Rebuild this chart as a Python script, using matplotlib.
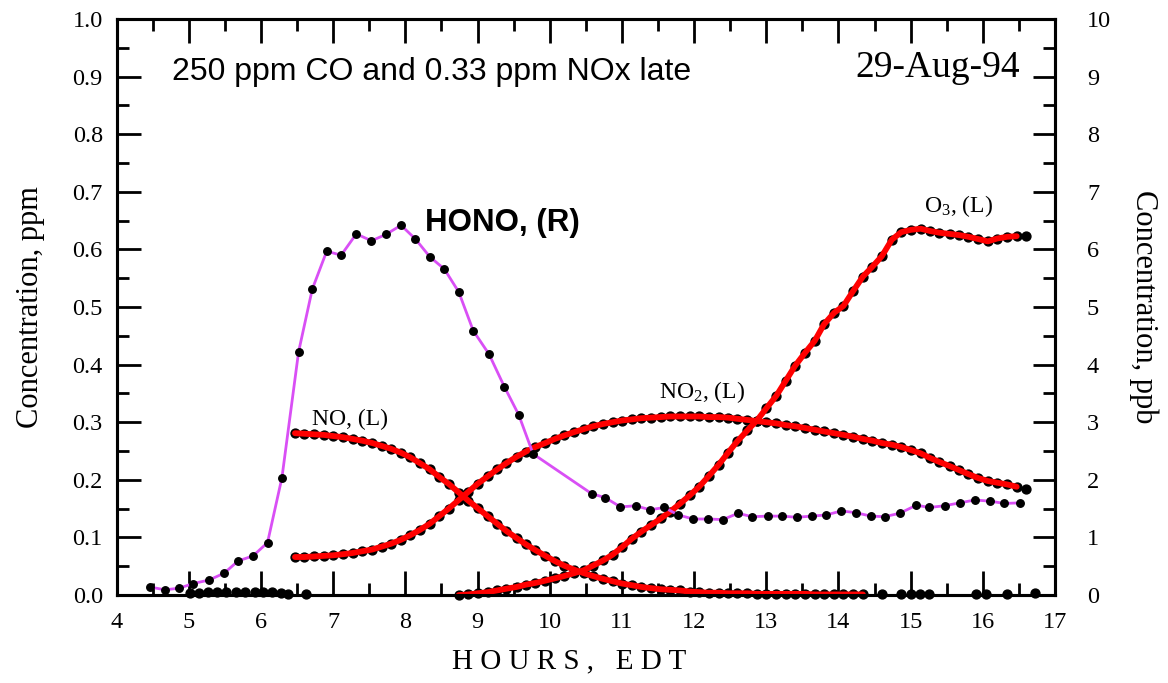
import matplotlib
matplotlib.use("Agg")
import matplotlib.pyplot as plt
from matplotlib.ticker import MultipleLocator, FormatStrFormatter

plt.rcParams['font.family'] = 'Liberation Serif'
plt.rcParams['mathtext.fontset'] = 'custom'
plt.rcParams['mathtext.rm'] = 'Liberation Serif'
plt.rcParams['mathtext.default'] = 'regular'

# HONO (right axis, ppb)
hono_t = [4.46, 4.67, 4.87, 5.06, 5.28, 5.49, 5.68, 5.89, 6.09, 6.29,
          6.52, 6.71, 6.91, 7.11, 7.32, 7.53, 7.73, 7.94, 8.14, 8.34,
          8.54, 8.74, 8.94, 9.16, 9.37, 9.57, 9.77,
          10.58, 10.77, 10.98,
          11.19, 11.39, 11.59, 11.78, 11.99, 12.19, 12.40, 12.61, 12.80, 13.02,
          13.22, 13.42, 13.63, 13.83, 14.04, 14.24, 14.45, 14.64, 14.85, 15.08,
          15.26, 15.47, 15.68, 15.89, 16.10, 16.30, 16.51]
hono_ppb = [0.14, 0.09, 0.12, 0.20, 0.26, 0.38, 0.59, 0.68, 0.91, 2.04,
            4.22, 5.31, 5.97, 5.90, 6.27, 6.15, 6.26, 6.42, 6.18, 5.87,
            5.66, 5.26, 4.59, 4.18, 3.62, 3.13, 2.45,
            1.76, 1.69, 1.53,
            1.55, 1.48, 1.52, 1.39, 1.32, 1.32, 1.31, 1.42, 1.36, 1.37,
            1.37, 1.35, 1.37, 1.39, 1.46, 1.43, 1.37, 1.36, 1.42, 1.56,
            1.52, 1.55, 1.60, 1.65, 1.63, 1.59, 1.60]

# sample times for NO, NO2, O3 (hours)
times = [6.47, 6.60, 6.74, 6.87, 7.00, 7.14, 7.27, 7.40, 7.54, 7.67,
         7.80, 7.94, 8.07, 8.20, 8.34, 8.47, 8.60, 8.74, 8.87, 9.00,
         9.14, 9.27, 9.40, 9.54, 9.67, 9.80, 9.94, 10.07, 10.20, 10.34,
         10.47, 10.60, 10.74, 10.87, 11.00, 11.14, 11.27, 11.40, 11.54, 11.67,
         11.80, 11.94, 12.07, 12.20, 12.34, 12.47, 12.60, 12.74, 12.87, 13.00,
         13.14, 13.27, 13.40, 13.54, 13.67, 13.80, 13.94, 14.07, 14.20, 14.34,
         14.47, 14.60, 14.74, 14.87, 15.00, 15.14, 15.27, 15.40, 15.54, 15.67,
         15.80, 15.94, 16.07, 16.20, 16.34, 16.47, 16.60]

no_ppm = [0.281, 0.280, 0.279, 0.278, 0.276, 0.274, 0.271, 0.268, 0.264, 0.259,
          0.254, 0.247, 0.239, 0.229, 0.218, 0.205, 0.193, 0.178, 0.164, 0.151,
          0.137, 0.124, 0.111, 0.099, 0.088, 0.078, 0.068, 0.059, 0.051, 0.044,
          0.038, 0.033, 0.028, 0.024, 0.020, 0.017, 0.014, 0.012, 0.010, 0.009,
          0.008, 0.006, 0.005, 0.004, 0.004, 0.003, 0.003, 0.003, 0.002, 0.002,
          0.002, 0.002, 0.002, 0.002, 0.001, 0.001, 0.001, 0.001, 0.001, 0.001]

no2_ppm = [0.066, 0.066, 0.067, 0.068, 0.069, 0.071, 0.073, 0.076, 0.079, 0.084,
           0.089, 0.096, 0.104, 0.113, 0.124, 0.137, 0.150, 0.165, 0.179, 0.193,
           0.206, 0.218, 0.229, 0.240, 0.249, 0.257, 0.264, 0.271, 0.277, 0.283,
           0.288, 0.293, 0.297, 0.300, 0.303, 0.305, 0.307, 0.308, 0.309, 0.310,
           0.310, 0.310, 0.310, 0.309, 0.309, 0.308, 0.306, 0.304, 0.302, 0.300,
           0.298, 0.295, 0.293, 0.290, 0.287, 0.284, 0.281, 0.278, 0.275, 0.271,
           0.268, 0.264, 0.261, 0.257, 0.252, 0.246, 0.238, 0.231, 0.224, 0.217,
           0.210, 0.203, 0.198, 0.195, 0.192, 0.188, 0.184]

o3_ppm = [0.000, 0.001, 0.003, 0.005, 0.008, 0.011, 0.014, 0.018, 0.021, 0.025,
          0.029, 0.033, 0.038, 0.043, 0.051, 0.060, 0.070, 0.083, 0.098, 0.110,
          0.121, 0.133, 0.145, 0.158, 0.173, 0.188, 0.206, 0.226, 0.247, 0.267,
          0.286, 0.303, 0.324, 0.346, 0.372, 0.398, 0.421, 0.441, 0.470, 0.490,
          0.502, 0.527, 0.553, 0.570, 0.588, 0.617, 0.630, 0.634, 0.636, 0.632,
          0.629, 0.627, 0.625, 0.622, 0.618, 0.614, 0.619, 0.622, 0.623, 0.624]

# near-zero readings along the bottom
early_t = [5.02, 5.14, 5.27, 5.39, 5.52, 5.65, 5.78, 5.91, 6.03, 6.15, 6.27, 6.37, 6.62]
early_ppm = [0.004, 0.004, 0.005, 0.005, 0.005, 0.005, 0.005, 0.005, 0.005, 0.005, 0.004, 0.002, 0.001]
late_t = [14.60, 14.87, 15.01, 15.13, 15.26, 15.91, 16.05, 16.33, 16.72]
late_ppm = [0.002, 0.002, 0.002, 0.002, 0.002, 0.002, 0.002, 0.002, 0.004]

o3_start = 17
no_n = len(no_ppm)

fig = plt.figure(figsize=(11.68, 6.83), dpi=100)
ax = fig.add_axes([0.0999, 0.1288, 0.8033, 0.8433])
ax2 = ax.twinx()

dot = dict(marker='o', linestyle='none', color='black', ms=6.4, clip_on=False)
ax.plot(times[:no_n], no_ppm, zorder=2, **dot)
ax.plot(times, no2_ppm, zorder=2, **dot)
ax.plot(times[o3_start:], o3_ppm, zorder=2, **dot)
ax.plot(early_t, early_ppm, zorder=2, **dot)
ax.plot(late_t, late_ppm, zorder=2, **dot)

ax.plot(times[:no_n], no_ppm, color='red', lw=4.2, zorder=3, solid_capstyle='round')
ax.plot(times[:-1], no2_ppm[:-1], color='red', lw=4.2, zorder=3, solid_capstyle='round')
ax.plot(times[o3_start:-1], o3_ppm[:-1], color='red', lw=4.2, zorder=3, solid_capstyle='round')

ax2.plot(hono_t, hono_ppb, color='#d94ff5', lw=2, zorder=2)
ax2.plot(hono_t, hono_ppb, marker='o', linestyle='none', color='black', ms=5.4, zorder=3, clip_on=False)

ax.set_xlim(4, 17)
ax.set_ylim(0, 1)
ax2.set_ylim(0, 10)

ax.xaxis.set_major_locator(MultipleLocator(1))
ax.xaxis.set_minor_locator(MultipleLocator(0.5))
ax.yaxis.set_major_locator(MultipleLocator(0.1))
ax.yaxis.set_minor_locator(MultipleLocator(0.05))
ax.yaxis.set_major_formatter(FormatStrFormatter('%.1f'))
ax2.yaxis.set_major_locator(MultipleLocator(1))
ax2.yaxis.set_minor_locator(MultipleLocator(0.5))

ax.tick_params(which='both', direction='in', top=True, right=False, width=2, labelsize=17.5)
ax.tick_params(which='major', length=17)
ax.tick_params(which='minor', length=8.5)
ax.tick_params(axis='y', pad=10)
ax.tick_params(axis='x', pad=12)
ax2.tick_params(which='both', direction='in', width=2, labelsize=17.5, pad=23)
ax2.tick_params(which='major', length=16)
ax2.tick_params(which='minor', length=8.5)

for a in (ax, ax2):
    for s in a.spines.values():
        s.set_linewidth(2.2)

ax.set_xlabel('H O U R S ,   E D T', fontsize=21, labelpad=11)
ax.xaxis.label.set_x(0.482)
ax.set_ylabel('Concentration, ppm', fontsize=22)
ax.yaxis.set_label_coords(-0.076, 0.5)
ax2.set_ylabel('Concentration, ppb', fontsize=22, rotation=270, va='bottom')
ax2.yaxis.set_label_coords(1.079, 0.5)

ax.text(4.77, 0.908, '250 ppm CO and 0.33 ppm NOx late', family='Liberation Sans',
        fontsize=23, ha='left', va='center')
ax.text(16.51, 0.915, '29-Aug-94', fontsize=27, ha='right', va='center')
ax.text(8.27, 0.646, 'HONO, (R)', family='Liberation Sans', weight='bold',
        fontsize=22.5, ha='left', va='center')
ax.text(7.23, 0.304, 'NO, (L)', fontsize=17, ha='center', va='center')
ax.text(12.11, 0.352, 'NO$_2$, (L)', fontsize=17, ha='center', va='center')
ax.text(15.67, 0.675, 'O$_3$, (L)', fontsize=17, ha='center', va='center')

fig.savefig('out.png', dpi=100)
